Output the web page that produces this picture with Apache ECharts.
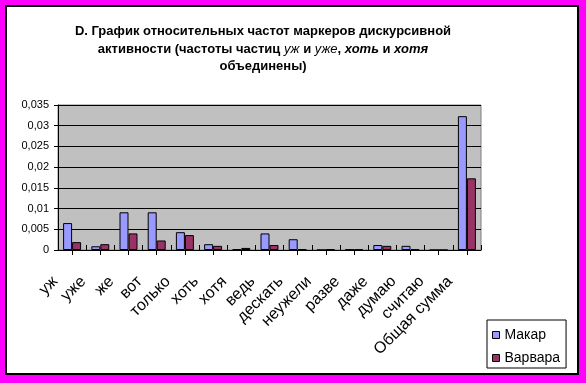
<!DOCTYPE html>
<html>
<head>
<meta charset="utf-8">
<script src="https://cdn.jsdelivr.net/npm/echarts@6/dist/echarts.min.js"></script>
<style>
html,body{margin:0;padding:0;background:#FF00FF;width:586px;height:383px;overflow:hidden;}
#frame{position:absolute;left:5px;top:5px;width:570px;height:366px;border:2px solid #000;background:#fff;}
#chart{position:absolute;left:0;top:0;width:586px;height:383px;}
</style>
</head>
<body>
<div id="frame"></div>
<div id="chart"></div>
<script>
const categories = ['уж','уже','же','вот','только','хоть','хотя','ведь','дескать','неужели','разве','даже','думаю','считаю','Общая сумма'];
const seriesNames = ['Макар','Варвара'];
const makar   = [0.0065,0.0009,0.0091,0.0091,0.0043,0.0014,0.0002,0.0040,0.0026,0,0.0001,0.0012,0.0010,0,0.0323];
const varvara = [0.0019,0.0014,0.0040,0.0023,0.0036,0.0010,0.0005,0.0012,0.0002,0.0002,0.0001,0.0010,0.0002,0,0.0173];
const yMin = 0, yMax = 0.035, yStep = 0.005;

const FONT = "'Liberation Sans', Arial, sans-serif";
const chart = echarts.init(document.getElementById('chart'), null, {renderer:'canvas'});
const baseB = {fontFamily:FONT, fontSize:13, fontWeight:'bold', lineHeight:17.5, fill:'#000'};
chart.setOption({
  backgroundColor:'transparent',
  animation:false,
  graphic:[{
    type:'text', x:263, y:23,
    style:{
      text:'{b|D. График относительных частот маркеров дискурсивной}\n{b|активности (частоты частиц }{i|уж}{b| и }{i|уже}{b|, }{bi|хоть}{b| и }{bi|хотя}\n{b|объединены)}',
      align:'center', verticalAlign:'top',
      fontFamily:FONT, fontSize:13, fontWeight:'bold', lineHeight:17.5,
      rich:{
        b:Object.assign({}, baseB),
        i:Object.assign({}, baseB, {fontWeight:'normal', fontStyle:'italic'}),
        bi:Object.assign({}, baseB, {fontStyle:'italic'})
      }
    }
  }],
  grid:{left:58, right:105, top:105, bottom:133, show:true, backgroundColor:'#C0C0C0', borderColor:'#808080', borderWidth:1},
  legend:{
    orient:'vertical', left:487, top:320, data:seriesNames,
    itemWidth:7, itemHeight:7, itemGap:9, padding:[8,6,3,5],
    borderColor:'#000', borderWidth:1, backgroundColor:'#fff', icon:'rect',
    itemStyle:{borderColor:'#000', borderWidth:1},
    textStyle:{fontFamily:FONT, fontSize:14, color:'#000'}
  },
  xAxis:[{
    type:'category', data:categories, position:'bottom',
    axisLine:{lineStyle:{color:'#000', width:1}},
    axisTick:{show:true, inside:true, length:5, interval:0, alignWithLabel:false, lineStyle:{color:'#000'}},
    axisLabel:{interval:0, rotate:45, fontFamily:FONT, fontSize:16, color:'#000', margin:12, padding:[0,24,0,0]}
  },{
    type:'category', data:categories, position:'bottom',
    axisLine:{show:false},
    axisTick:{show:true, inside:false, length:5, interval:0, alignWithLabel:true, lineStyle:{color:'#000'}},
    axisLabel:{show:false}
  }],
  yAxis:{
    type:'value', min:yMin, max:yMax, interval:yStep,
    axisLine:{show:true, lineStyle:{color:'#000'}},
    axisTick:{show:true, length:4, lineStyle:{color:'#000'}},
    splitLine:{show:true, lineStyle:{color:'#000', width:1}},
    axisLabel:{fontFamily:FONT, fontSize:11, color:'#000', margin:9,
      formatter:v => String(parseFloat(v.toFixed(3))).replace('.', ',')}
  },
  series:[
    {name:seriesNames[0], type:'bar', data:makar, barWidth:9, barGap:'0%',
     itemStyle:{color:'#9999FF', borderColor:'#000', borderWidth:1}},
    {name:seriesNames[1], type:'bar', data:varvara, barWidth:9, barGap:'0%',
     itemStyle:{color:'#993366', borderColor:'#000', borderWidth:1}}
  ]
});
</script>
</body>
</html>
